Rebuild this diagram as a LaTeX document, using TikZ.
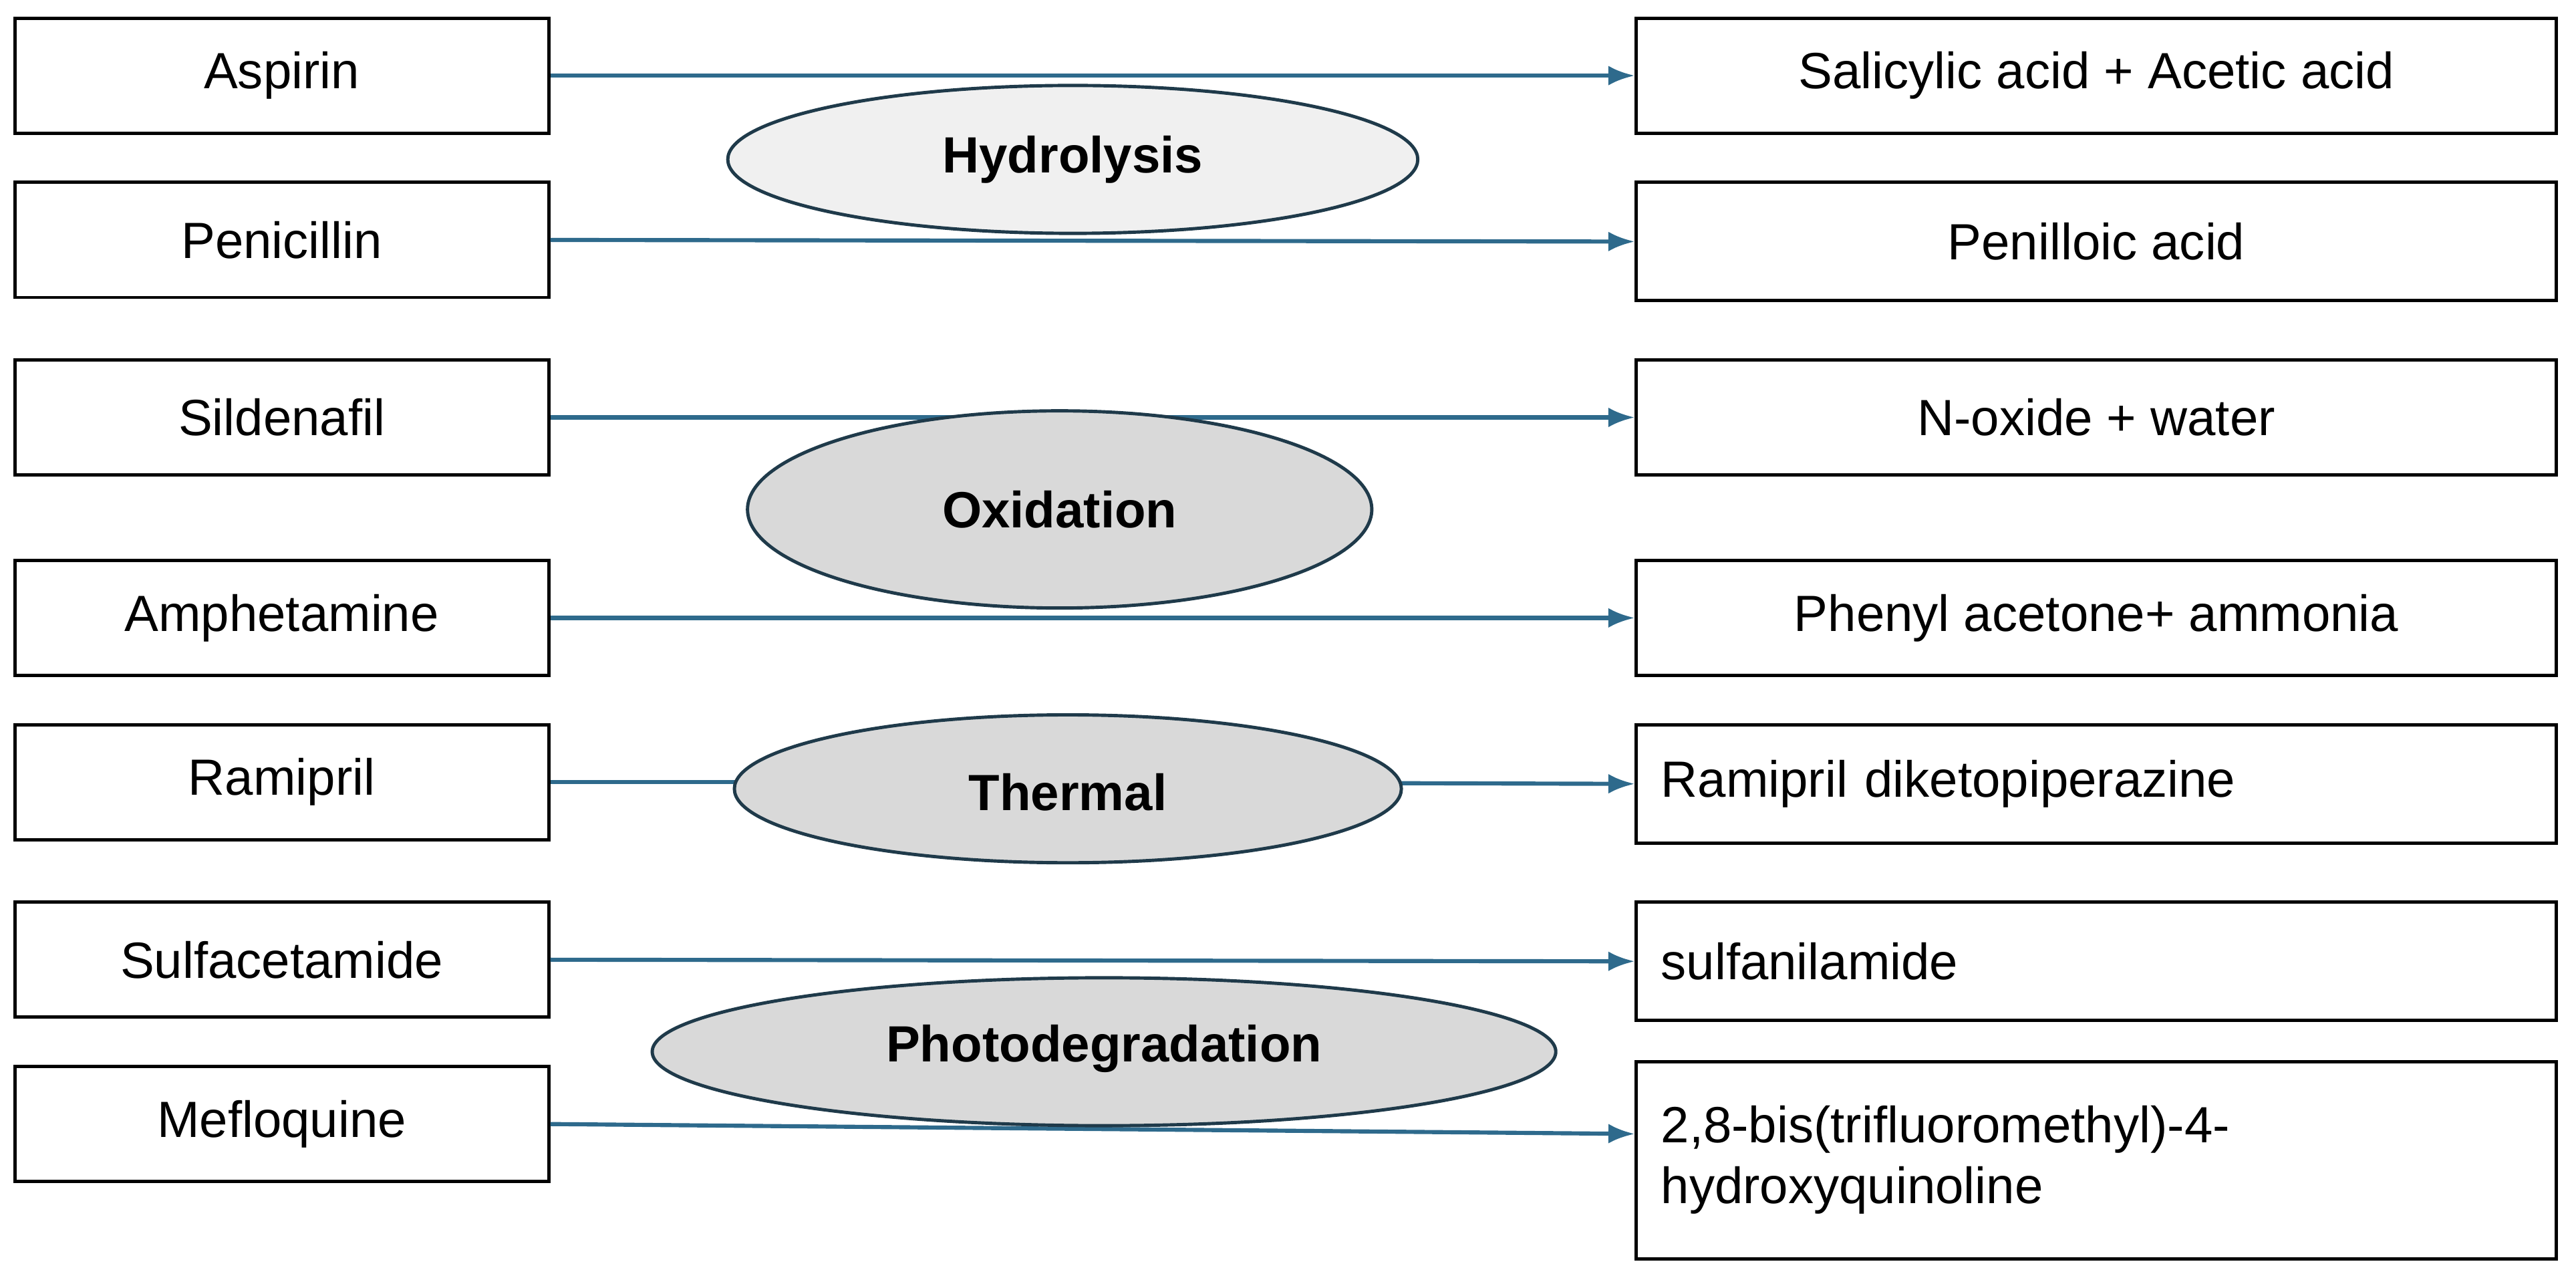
\documentclass[tikz,border=0pt]{standalone}
\usepackage{fontspec}
\setmainfont{Liberation Sans}
\usetikzlibrary{arrows.meta}
\definecolor{arr}{HTML}{2E6A8C}
\definecolor{ell}{HTML}{1F3A4A}
\begin{document}
\begin{tikzpicture}[x=1pt,y=-1pt,
  bx/.style={draw=black,line width=2pt,fill=white,font=\fontsize{31}{37}\selectfont},
  con/.style={draw=arr,line width=2.5pt,-{Latex[length=16pt,width=12pt]}}]
\useasboundingbox (0,0) rectangle (1568,780);
\newcommand\lbox[4]{\node[bx,minimum width=325pt,minimum height=#3pt,anchor=north west] (#1) at (8,#2) {#4};}
\newcommand\rbox[4]{\node[bx,minimum width=560pt,minimum height=#3pt,anchor=north west] (#1) at (995,#2) {#4};}
\lbox{a}{10}{70}{Aspirin}
\lbox{b}{110}{70}{Penicillin}
\lbox{c}{218}{70}{Sildenafil}
\lbox{d}{340}{70}{Amphetamine}
\lbox{e}{440}{70}{Ramipril}
\lbox{f}{548}{70}{Sulfacetamide}
\lbox{g}{648}{70}{Mefloquine}
\rbox{A}{10}{70}{Salicylic acid + Acetic acid}
\rbox{B}{110}{72}{Penilloic acid}
\rbox{C}{218}{70}{N-oxide + water}
\rbox{D}{340}{70}{Phenyl acetone+ ammonia}
\node[bx,minimum width=560pt,minimum height=72pt,anchor=north west,text width=530pt,align=left] (E) at (995,440) {Ramipril diketopiperazine};
\node[bx,minimum width=560pt,minimum height=72pt,anchor=north west,text width=530pt,align=left] (F) at (995,548) {sulfanilamide};
\node[bx,minimum width=560pt,minimum height=120pt,anchor=north west,text width=530pt,align=left] (G) at (995,645) {2,8-bis(trifluoromethyl)-4-\\hydroxyquinoline};
\coordinate (gin) at (995,690);
\draw[con] (a.east) -- (A.west);
\draw[con] (b.east) -- (B.west);
\draw[con] (c.east) -- (C.west);
\draw[con] (d.east) -- (D.west);
\draw[con] (f.east) -- (F.west);
\draw[con] (g.east) -- (gin);
\coordinate (tm) at (650,476);
\draw[draw=arr,line width=2.5pt] (e.east) -- (tm);
\draw[con] (tm) -- (E.west);
\fill[fill=gray!12,draw=ell,line width=2pt] (653,97) ellipse [x radius=210, y radius=45];
\node[font=\bfseries\fontsize{31}{37}\selectfont] (h) at (653,97) {Hydrolysis};
\fill[fill=gray!30,draw=ell,line width=2pt] (645,310) ellipse [x radius=190, y radius=60];
\node[font=\bfseries\fontsize{31}{37}\selectfont] (o) at (645,310) {Oxidation};
\fill[fill=gray!30,draw=ell,line width=2pt] (650,480) ellipse [x radius=203, y radius=45];
\node[font=\bfseries\fontsize{31}{37}\selectfont] (t) at (650,482) {Thermal};
\fill[fill=gray!30,draw=ell,line width=2pt] (672,640) ellipse [x radius=275, y radius=45];
\node[font=\bfseries\fontsize{31}{37}\selectfont] (p) at (672,638) {Photodegradation};
\end{tikzpicture}
\end{document}
